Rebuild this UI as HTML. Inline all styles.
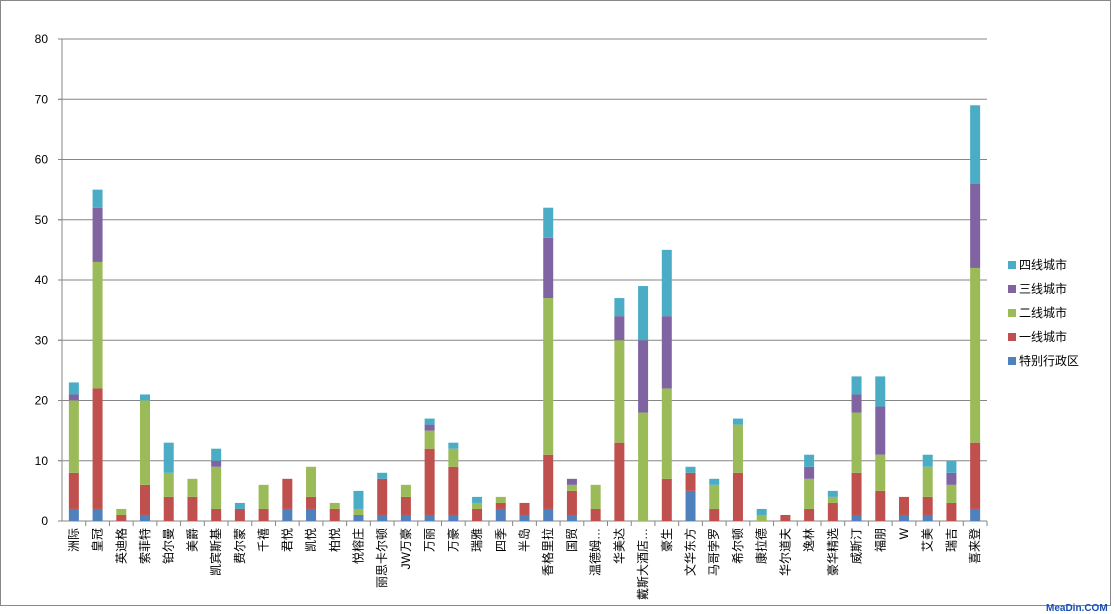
<!DOCTYPE html>
<html><head><meta charset="utf-8"><style>
body{margin:0;background:#fff;}
svg{display:block;font-family:"Liberation Sans","Noto Sans CJK SC",sans-serif;}
</style></head><body>
<svg id="c" width="1114" height="614" xmlns="http://www.w3.org/2000/svg">
<rect x="0.5" y="0.5" width="1110" height="605" fill="#fff" stroke="#888"/>
<g id="g"></g>
<g font-size="12" fill="#000">
<rect x="1008" y="261" width="8" height="8" fill="#4BACC6"/><text x="1019" y="269">四线城市</text>
<rect x="1008" y="285" width="8" height="8" fill="#8064A2"/><text x="1019" y="293">三线城市</text>
<rect x="1008" y="309" width="8" height="8" fill="#9BBB59"/><text x="1019" y="317">二线城市</text>
<rect x="1008" y="333" width="8" height="8" fill="#C0504D"/><text x="1019" y="341">一线城市</text>
<rect x="1008" y="357" width="8" height="8" fill="#4F81BD"/><text x="1019" y="365">特别行政区</text>
</g>
<text x="1046" y="611" font-size="10" fill="#1a4fb0" font-weight="bold">MeaDin.COM</text>
</svg>
<script>
var labels=["洲际","皇冠","英迪格","索菲特","铂尔曼","美爵","凯宾斯基","费尔蒙","千禧","君悦","凯悦","柏悦","悦榕庄","丽思卡尔顿","JW万豪","万丽","万豪","瑞雅","四季","半岛","香格里拉","国贸","温德姆…","华美达","戴斯大酒店…","豪生","文华东方","马哥孛罗","希尔顿","康拉德","华尔道夫","逸林","豪华精选","威斯汀","福朋","W","艾美","瑞吉","喜来登"];
var d=[[2,8,20,21,23],[2,22,43,52,55],[0,1,2,2,2],[1,6,20,20,21],[0,4,8,8,13],[0,4,7,7,7],[0,2,9,10,12],[0,2,2,2,3],[0,2,6,6,6],[2,7,7,7,7],[2,4,9,9,9],[0,2,3,3,3],[1,1,2,2,5],[1,7,7,7,8],[1,4,6,6,6],[1,12,15,16,17],[1,9,12,12,13],[0,2,3,3,4],[2,3,4,4,4],[1,3,3,3,3],[2,11,37,47,52],[1,5,6,7,7],[0,2,6,6,6],[0,13,30,34,37],[0,0,18,30,39],[0,7,22,34,45],[5,8,8,8,9],[0,2,6,6,7],[0,8,16,16,17],[0,0,1,1,2],[0,1,1,1,1],[0,2,7,9,11],[0,3,4,4,5],[1,8,18,21,24],[0,5,11,19,24],[1,4,4,4,4],[1,4,9,9,11],[0,3,6,8,10],[2,13,42,56,69]];
var cols=["#4F81BD","#C0504D","#9BBB59","#8064A2","#4BACC6"];
var X0=62,X1=987,Y0=521,Y80=39,s=(Y0-Y80)/80,w=(X1-X0)/39,h='';
for(var k=0;k<=8;k++){var y=Y0-k*10*s;h+='<line x1="'+(k==0?X0:X0-4)+'" x2="'+X1+'" y1="'+y+'" y2="'+y+'" stroke="#868686"/>';h+='<line x1="'+(X0-4)+'" x2="'+X0+'" y1="'+y+'" y2="'+y+'" stroke="#868686"/>';h+='<text x="48" y="'+(y+4)+'" font-size="12" text-anchor="end">'+(k*10)+'</text>';}
h+='<line x1="'+X0+'" x2="'+X0+'" y1="'+Y80+'" y2="'+Y0+'" stroke="#868686"/>';
for(var i=0;i<39;i++){var cx=X0+w*(i+0.5),prev=0;
for(var j=0;j<5;j++){var v=d[i][j];if(v>prev){h+='<rect x="'+(cx-5)+'" y="'+(Y0-v*s)+'" width="10" height="'+((v-prev)*s)+'" fill="'+cols[j]+'"/>';}prev=Math.max(prev,v);}
h+='<line x1="'+(X0+w*(i+1))+'" x2="'+(X0+w*(i+1))+'" y1="'+Y0+'" y2="'+(Y0+5)+'" stroke="#868686"/>';
h+='<text transform="translate('+(cx+4)+',528) rotate(-90)" font-size="12" text-anchor="end">'+labels[i]+'</text>';}
document.getElementById('g').innerHTML=h;
</script>
</body></html>
